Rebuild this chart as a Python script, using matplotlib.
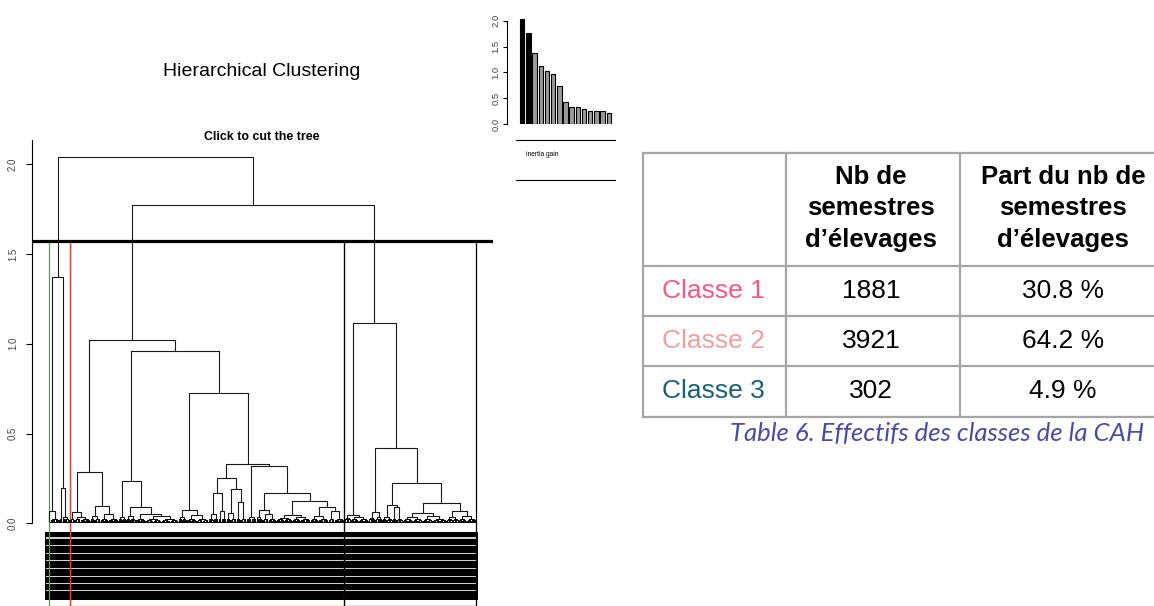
import numpy as np
import matplotlib.pyplot as plt
from matplotlib.patches import Rectangle
from matplotlib.lines import Line2D
from matplotlib.collections import LineCollection

plt.rcParams['font.family'] = ['Liberation Sans', 'DejaVu Sans']

W, H = 1154, 606

##### data #####
# inertia gain (barplot in the corner)
inertia_gain = [2.04, 1.77, 1.37, 1.125, 1.03, 0.965, 0.733, 0.418,
                0.328, 0.328, 0.296, 0.257, 0.244, 0.244, 0.206]
n_clusters = 3

# dendrogram : [height, left, right], an int = group of individuals
green_tree = [1.37, [0.07, 20, 143], [0.195, 29, [0.035, 29, 81]]]
red_tree = [1.022,
            [0.284, [0.065, 64, [0.035, 86, 143]],
                    [0.099, [0.04, 57, 86], [0.05, 114, 143]]],
            [0.958,
             [0.237, [0.035, 57, 57],
                     [0.093, [0.04, 57, 71], [0.05, 143, [0.04, 228, 243]]]],
             [0.727,
              [0.076, [0.035, 57, 57], [0.045, 143, 171]],
              [0.332,
               [0.254, [0.167, [0.05, 71, 71], [0.07, 43, 71]],
                       [0.19, [0.06, 57, 86], [0.12, 57, 86]]],
               [0.317, [0.035, 71, 71],
                [0.167, [0.075, [0.035, 29, 57], [0.05, 86, 114]],
                 [0.126, [0.045, [0.03, 114, 114], [0.035, 114, 143]],
                  [0.09, [0.04, 114, 143], [0.07, 86, 146]]]]]]]]]
black_tree = [1.115,
              [0.048, [0.03, 43, 43], [0.035, 114, 143]],
              [0.418, [0.065, [0.03, 43, 57], [0.035, 43, 57]],
               [0.226, [0.102, [0.035, 57, 86], [0.09, 57, 86]],
                [0.113, [0.06, [0.035, 143, 143], [0.04, 143, 200]],
                 [0.07, [0.035, 86, 86], [0.04, 114, 137]]]]]]
tree = [2.04, green_tree, [1.77, red_tree, black_tree]]
cluster_trees = [green_tree, red_tree, black_tree]
cluster_cols = ['#33b633', '#d9463f', 'black']

# table
classes = ['Classe 1', 'Classe 2', 'Classe 3']
class_cols = ['#f25a82', '#eea0a2', '#1b6075']
nb_semestres = [1881, 3921, 302]
part_semestres = [30.8, 64.2, 4.9]
header_nb = ['Nb de', 'semestres', 'd\u2019élevages']
header_part = ['Part du nb de', 'semestres', 'd\u2019élevages']
caption = 'Table 6. Effectifs des classes de la CAH'

##### dendrogram layout #####
fig = plt.figure(figsize=(W / 100, H / 100), dpi=100)

def fx(px):
    return px / W

def fy(py):
    return 1 - py / H

def n_leaves(node):
    if isinstance(node, int):
        return node
    return n_leaves(node[1]) + n_leaves(node[2])

n_tot = n_leaves(tree)

# pixel geometry of the dendrogram panel
px_leaf0, px_leafN, py_zero, px_per_unit = 48.6, 476.0, 523.3, 179.58
px_per_leaf = (px_leafN - px_leaf0) / (n_tot - 1)

# a group of individuals is drawn as a small dense comb
comb_h = [0.026, 0.019, 0.013]
band_h = 0.009
segs, fine = [], []

def comb(s, e, level=0):
    if level == len(comb_h) or (e - s) * px_per_leaf < 1.6:
        return s + (e - s + 1) / 2, band_h
    mid = (s + e) // 2
    xl, hl = comb(s, mid, level + 1)
    xr, hr = comb(mid, e, level + 1)
    fine.append([(xl, hl), (xl, comb_h[level]), (xr, comb_h[level]), (xr, hr)])
    return (xl + xr) / 2, comb_h[level]

def layout(node, start):
    if isinstance(node, int):
        x, h = comb(start, start + node)
        return x, h, start + node
    h, l, r = node
    xl, hl, s = layout(l, start)
    xr, hr, e = layout(r, s)
    segs.append([(xl, hl), (xl, h), (xr, h), (xr, hr)])
    return (xl + xr) / 2, h, e

layout(tree, 0)

ax_l, ax_r, ax_t = 31.5, 493.1, 130
ax = fig.add_axes([fx(ax_l), 0, fx(ax_r - ax_l), (H - ax_t) / H])
ax.set_xlim(1 - (px_leaf0 - ax_l) / px_per_leaf, n_tot + (ax_r - px_leafN) / px_per_leaf)
ax.set_ylim(-(H - py_zero) / px_per_unit, (py_zero - ax_t) / px_per_unit)

ax.add_collection(LineCollection(segs, colors='#1a1a1a', linewidths=0.8))
ax.add_collection(LineCollection(fine, colors='black', linewidths=0.7))
ax.add_patch(Rectangle((0.5, 0), n_tot, band_h, color='black', lw=0))

# leaf labels : overlapping rotated labels make a black band
band_top = -(532 - py_zero) / px_per_unit
band_bot = -(600 - py_zero) / px_per_unit
bx0 = 1 - (px_leaf0 - 44.5) / px_per_leaf
bx1 = n_tot + (478 - px_leafN) / px_per_leaf
ax.add_patch(Rectangle((bx0, band_bot), bx1 - bx0, band_top - band_bot, color='black', lw=0))
for gp in [538, 545.5, 553.3, 560.7, 568.3, 576.5, 583.7, 590.5]:
    gy = -(gp - py_zero) / px_per_unit
    ax.add_patch(Rectangle((bx0 + 15, gy - 0.6 / px_per_unit), bx1 - bx0 - 30, 1.3 / px_per_unit,
                           color='#cfcfcf', lw=0))

# cut of the tree
heights = sorted([s[1][1] for s in segs], reverse=True)
cut = np.mean(heights[n_clusters - 2:n_clusters])
ax.axhline(cut, color='black', lw=2.3)
m = np.cumsum([0] + [n_leaves(t) for t in cluster_trees])
ybot = ax.get_ylim()[0]
for i, col in enumerate(cluster_cols):
    ax.add_patch(Rectangle((m[i] + 0.66, ybot), m[i + 1] - m[i] - 0.33, cut - ybot,
                           fill=False, edgecolor=col, lw=0.9))

for sp in ['top', 'right', 'bottom']:
    ax.spines[sp].set_visible(False)
ax.spines['left'].set_bounds(0, (py_zero - 140) / px_per_unit)
ax.spines['left'].set_linewidth(0.8)
ax.set_xticks([])
ax.set_yticks([0, 0.5, 1.0, 1.5, 2.0])
ax.set_yticklabels(['0.0', '0.5', '1.0', '1.5', '2.0'], rotation=90, va='center',
                   fontsize=6.9, color='#444444')
ax.tick_params(axis='y', direction='out', length=4.3, width=0.8, pad=5.5)

fig.text(fx(261.5), fy(137.3), 'Click to cut the tree', ha='center', va='center',
         fontsize=8.9, fontweight='bold')
fig.text(fx(262), fy(72), 'Hierarchical Clustering', ha='center', va='center', fontsize=14)

##### inertia gain inset #####
ax2 = fig.add_axes([fx(506.7), fy(124), fx(616 - 506.7), (124 - 10) / H])
ax2.set_xlim(-2.5, 15.16)
ax2.set_ylim(0, 114 / 51.65)
bar_cols = ['black' if i < n_clusters - 1 else '#9a9a9a' for i in range(len(inertia_gain))]
ax2.bar(np.arange(len(inertia_gain)), inertia_gain, width=0.72, color=bar_cols,
        edgecolor='black', linewidth=0.8)
for sp in ['top', 'right', 'bottom']:
    ax2.spines[sp].set_visible(False)
ax2.spines['left'].set_bounds(0, 2.0)
ax2.spines['left'].set_linewidth(0.8)
ax2.set_xticks([])
ax2.set_yticks([0, 0.5, 1.0, 1.5, 2.0])
ax2.set_yticklabels(['0.0', '0.5', '1.0', '1.5', '2.0'], rotation=90, va='center',
                    fontsize=6.8, color='#444444')
ax2.tick_params(axis='y', direction='out', length=2.9, width=0.8, pad=1.5)
ax2.patch.set_alpha(0)

fig.add_artist(Line2D([fx(516), fx(615)], [fy(140)] * 2, color='black', lw=0.8))
fig.add_artist(Line2D([fx(516), fx(615)], [fy(180)] * 2, color='black', lw=0.8))
fig.text(fx(526), fy(154), 'inertia gain', ha='left', va='center', fontsize=4.8)

##### table #####
grid = '#a6a6a6'
row_y = [153, 266, 315.7, 366, 416.7]
col_x = [643, 786, 960]
for y in row_y:
    fig.add_artist(Line2D([fx(643), fx(1160)], [fy(y)] * 2, color=grid, lw=1.6))
for x in col_x:
    fig.add_artist(Line2D([fx(x)] * 2, [fy(153), fy(416.7)], color=grid, lw=1.6))

for k, (a, b) in enumerate(zip(header_nb, header_part)):
    yy = fy(176.7 + 31.7 * k)
    fig.text(fx(871), yy, a, ha='center', va='center', fontsize=18.5, fontweight='bold')
    fig.text(fx(1063), yy, b, ha='center', va='center', fontsize=18.5, fontweight='bold')

for i in range(len(classes)):
    yy = fy((row_y[i + 1] + row_y[i + 2]) / 2)
    fig.text(fx(661.7), yy, classes[i], ha='left', va='center', fontsize=19, color=class_cols[i])
    fig.text(fx(871), yy, str(nb_semestres[i]), ha='center', va='center', fontsize=19)
    fig.text(fx(1063), yy, f'{part_semestres[i]} %', ha='center', va='center', fontsize=19)

fig.text(fx(937), fy(433), caption, ha='center', va='center', fontsize=18.5,
         style='italic', family=['Lato', 'DejaVu Sans'], color='#4b4ba3')

fig.savefig('out.png', dpi=100)
